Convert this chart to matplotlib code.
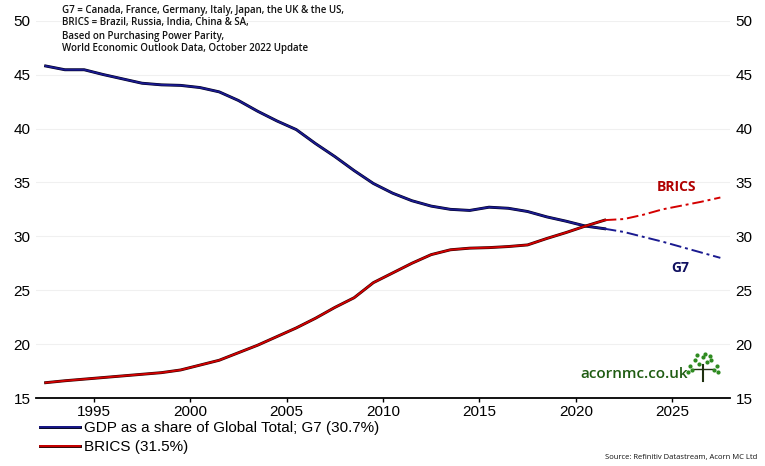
import matplotlib.pyplot as plt
import matplotlib.patheffects as pe
import numpy as np

# annual data, plotted at mid-year
years = list(range(1992, 2028))
g7 = [45.8, 45.45, 45.45, 45.0, 44.6, 44.2, 44.05, 44.0, 43.8, 43.4,
      42.6, 41.6, 40.7, 39.9, 38.6, 37.4, 36.1, 34.9, 34.0, 33.3,
      32.8, 32.5, 32.4, 32.7, 32.6, 32.3, 31.8, 31.4, 30.95, 30.7,
      30.4, 29.95, 29.5, 29.0, 28.5, 28.0]
brics = [16.42, 16.6, 16.75, 16.9, 17.05, 17.2, 17.35, 17.6, 18.05, 18.5,
         19.2, 19.9, 20.7, 21.5, 22.4, 23.4, 24.3, 25.7, 26.6, 27.5,
         28.3, 28.75, 28.9, 28.95, 29.05, 29.2, 29.8, 30.35, 30.95, 31.5,
         31.6, 32.0, 32.5, 32.85, 33.2, 33.6]
last_actual = 2021  # forecasts after this year are dash-dot
xticks = [1995, 2000, 2005, 2010, 2015, 2020, 2025]
yticks = [15, 20, 25, 30, 35, 40, 45, 50]

notes = ['G7 = Canada, France, Germany, Italy, Japan, the UK & the US,',
         'BRICS = Brazil, Russia, India, China & SA,',
         'Based on Purchasing Power Parity,',
         'World Economic Outlook Data, October 2022 Update']

G7_COL = '#1a1a90'
BR_COL = '#d40000'

plt.rcParams['font.family'] = ['Liberation Sans', 'DejaVu Sans']
fig = plt.figure(figsize=(7.65, 4.66), dpi=100)
ax = fig.add_axes([36/765, 1 - 398/466, (730-36)/765, (398-20.7)/466])

x = np.array(years) + 0.5
cut = years.index(last_actual) + 1
outline_r = [pe.Stroke(linewidth=2.1, foreground='#300000'), pe.Normal()]
outline_b = [pe.Stroke(linewidth=2.1, foreground='#000020'), pe.Normal()]

ax.plot(x[:cut], g7[:cut], color=G7_COL, lw=1.3, path_effects=outline_b,
        label='GDP as a share of Global Total; G7 (30.7%)')
ax.plot(x[:cut], brics[:cut], color=BR_COL, lw=1.3, path_effects=outline_r,
        label='BRICS (31.5%)')
ax.plot(x[cut-1:], g7[cut-1:], color=G7_COL, lw=1.4, dashes=(6, 2, 1.5, 2))
ax.plot(x[cut-1:], brics[cut-1:], color=BR_COL, lw=1.4, dashes=(6, 2, 1.5, 2))

ax.set_xlim(1992, 2028)
ax.set_ylim(15, 50)
ax.set_xticks(xticks)
ax.set_yticks(yticks)
ax.grid(axis='y', color='#f0f0f0', lw=0.8)
ax.set_axisbelow(True)
for s in ['top', 'left', 'right']:
    ax.spines[s].set_visible(False)
ax.spines['bottom'].set_linewidth(1.3)
ax.tick_params(axis='x', length=3, width=1, labelsize=11, pad=2)
ax.tick_params(axis='y', length=0, labelsize=11, labelright=True, pad=4)

ax.text(2025.2, 34.6, 'BRICS', color='#b00000', fontsize=10, fontweight='bold',
        family=['Open Sans', 'DejaVu Sans'], ha='center', va='center')
ax.text(2025.4, 27.1, 'G7', color='#101060', fontsize=10, fontweight='bold',
        family=['Open Sans', 'DejaVu Sans'], ha='center', va='center')

for i, line in enumerate(notes):
    fig.text(62/765, 1 - (10 + i*13)/466, line, fontsize=7, fontweight='semibold',
             family=['Open Sans', 'DejaVu Sans'], va='center', color='#111111')

# logo
ax.text(2025.8, 17.2, 'acornmc.co.uk', color='#1f5c12', fontsize=11,
        family=['Open Sans', 'DejaVu Sans'], fontweight='semibold', ha='right', va='center')
lx, ly = 2026.6, 17.9
ax.plot([lx, lx], [ly - 1.3, ly + 0.2], color='#1f3010', lw=1.5)
ax.plot([lx - 0.5, lx + 0.5], [ly - 0.2, ly - 0.2], color='#1f3010', lw=1.0)
ax.scatter(lx + np.array([-0.7, -0.4, 0, 0.4, 0.7, -0.55, -0.2, 0.2, 0.55, -0.3, 0.1, 0.35, -0.8, 0.8]),
           ly + np.array([0.1, 0.6, 0.9, 0.6, 0.1, -0.3, 0.3, 0.4, -0.3, 1.1, 1.2, 1.0, -0.5, -0.5]),
           s=4, color='#2d8a1f', zorder=5)

leg = ax.legend(loc='upper left', bbox_to_anchor=(40/765, 1 - 421/466),
                bbox_transform=fig.transFigure, frameon=False,
                fontsize=11, handlelength=2.6, handletextpad=0.25, labelspacing=0.35,
                borderaxespad=0, borderpad=0)

fig.text(757/765, 1 - 458/466, 'Source: Refinitiv Datastream, Acorn MC Ltd', fontsize=5.5,
         ha='right', va='center', family=['Open Sans', 'DejaVu Sans'], color='#111111')

fig.savefig('out.png', dpi=100)
